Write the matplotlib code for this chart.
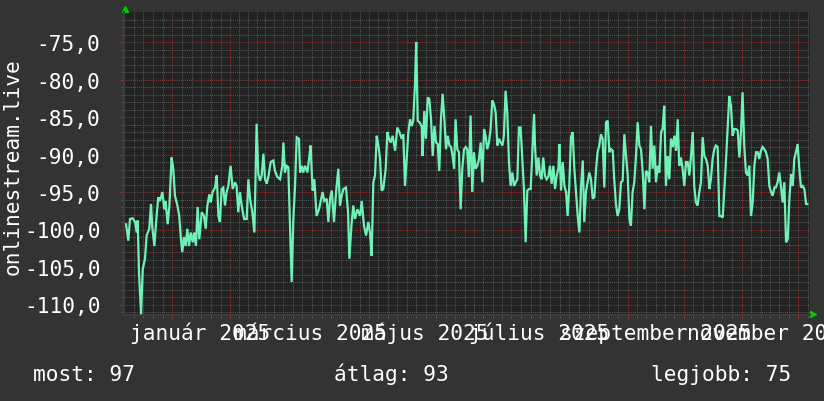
import matplotlib
matplotlib.use("Agg")
import matplotlib.pyplot as plt
import matplotlib.dates as mdates
import matplotlib.transforms as mtransforms
from matplotlib.ticker import FixedLocator, FuncFormatter
from datetime import datetime, timedelta

# ---------------- data ----------------
START = datetime(2024, 12, 6, 5, 0)   # left edge of the time window
WINDOW_DAYS = 366.2                   # width of the time window

day_offsets = [
    1.1, 2.3, 3.2, 4.6, 5.9, 6.8, 7.3, 8.0, 9.1, 10.0, 11.2, 12.1, 13.5, 14.4, 15.1, 16.2,
    17.4, 18.3, 19.2, 20.5, 21.5, 22.2, 23.3, 24.2, 25.4, 26.3, 27.2, 28.5, 29.5, 30.4, 31.1,
    32.0, 32.9, 33.8, 34.7, 35.6, 36.7, 37.5, 38.4, 39.3, 40.2, 41.5, 42.7, 43.6, 44.5, 45.6,
    46.3, 47.3, 48.6, 49.5, 50.4, 51.2, 52.1, 53.0, 53.9, 54.8, 55.7, 56.9, 58.0, 59.3, 60.1,
    61.0, 61.9, 62.8, 64.1, 65.5, 66.4, 67.3, 68.5, 69.6, 70.8, 71.7, 72.6, 73.5, 74.4, 75.3,
    76.2, 77.2, 78.3, 79.7, 80.6, 81.9, 83.3, 84.5, 85.1, 85.9, 86.8, 87.7, 88.6, 89.5, 90.4,
    91.3, 92.2, 93.4, 94.0, 94.8, 95.7, 96.6, 97.9, 98.8, 99.6, 100.7, 101.6, 102.8, 104.1,
    105.0, 106.0, 106.9, 108.2, 109.1, 110.0, 110.9, 112.1, 113.2, 114.4, 115.3, 116.2, 117.1,
    118.5, 119.6, 120.3, 121.4, 122.4, 123.3, 124.6, 126.0, 126.9, 128.1, 129.2, 130.4, 131.3,
    132.2, 133.1, 134.0, 134.9, 135.8, 136.7, 137.5, 138.4, 139.7, 140.6, 141.5, 142.3, 143.4,
    144.7, 145.9, 147.0, 148.2, 149.1, 150.0, 150.9, 151.8, 152.7, 153.6, 154.4, 155.3, 156.0,
    156.8, 157.7,
    158.9, 159.4, 160.3, 161.2, 162.1, 163.0, 163.9, 164.8, 165.7, 166.6, 167.5, 168.3, 169.2,
    170.1, 171.0, 171.9, 172.8, 173.7, 174.6, 175.4, 176.2, 177.0, 177.9, 178.8, 179.7, 180.6,
    181.5, 182.4, 183.2, 184.1, 185.0, 185.9, 186.8, 187.7, 188.6, 189.5, 190.4, 191.3, 192.2,
    193.0, 193.9, 194.8, 195.7, 196.6, 197.5, 198.4, 199.3, 200.2, 201.1, 202.0, 202.8, 203.7,
    204.6, 205.5, 206.4, 207.3, 208.2, 209.1, 210.0, 210.8, 211.7, 212.6, 213.5, 214.4, 215.3,
    216.2, 217.1, 218.0, 218.9, 219.4, 220.3, 221.2, 222.1, 222.9, 223.8, 224.7, 225.6, 226.5,
    227.4, 228.3, 229.2, 230.1, 231.0, 231.9, 232.4, 233.3, 234.2, 235.1, 236.0, 236.8, 237.7,
    238.6, 239.5, 240.4, 241.3, 242.2, 243.1, 244.0, 244.9, 245.7, 246.6, 247.5, 248.4, 249.3,
    250.2, 251.1, 252.0, 252.8, 253.7, 254.6, 255.5, 256.4, 257.3, 258.2, 259.1, 260.0, 260.9,
    261.7, 262.6, 263.5, 264.4, 265.3, 266.2, 267.1, 268.0, 268.9, 269.8, 270.6, 271.5, 272.4,
    273.3, 274.2, 275.1, 276.0, 276.9, 277.8, 278.6, 279.5, 280.4, 281.3, 282.2, 283.1, 284.0,
    284.9, 285.8, 286.7, 287.5, 288.4, 289.3, 290.2, 291.1, 292.0, 292.9, 293.8, 294.7, 295.6,
    296.4, 297.3, 298.2, 299.1, 300.0, 300.9, 301.8, 302.7, 303.6, 304.4, 305.3, 306.2, 307.1,
    308.0, 308.9, 309.8, 310.7, 311.6, 312.5, 313.3, 314.2, 315.1, 316.0, 316.9, 317.8, 318.7,
    319.6, 320.5, 321.4, 322.2, 323.1, 324.0, 324.9, 325.8, 326.7, 327.6, 328.5, 329.4, 330.2,
    331.1, 332.0, 332.9, 333.8, 334.7, 335.6, 336.5, 337.4, 338.3, 339.1, 340.0, 340.9, 341.8,
    342.7, 343.6, 344.5, 345.4, 346.3, 347.2, 348.0, 348.9, 349.8, 350.7, 351.6, 352.5, 353.4,
    354.3, 355.2, 356.1, 357.0, 357.8, 358.7, 359.6, 360.5, 361.4, 362.3, 363.2, 364.1, 364.8,
]

values = [
    -99.3, -101.5, -98.6, -98.5, -99.0, -100.4, -98.8, -105.7, -111.3, -105.3, -103.9, -100.8,
    -99.9, -96.6, -99.7, -102.2, -98.2, -95.7, -96.2, -95.0, -97.3, -96.2, -99.3, -97.0, -90.4,
    -91.9, -95.5, -96.8, -98.2, -101.3, -103.0, -101.0, -102.2, -99.9, -102.2, -100.4, -101.7,
    -100.4, -102.2, -97.0, -101.3, -97.7, -98.2, -99.9, -96.8, -95.3, -96.4, -95.0, -94.4,
    -92.8, -98.2, -99.0, -94.6, -94.4, -96.8, -95.0, -94.2, -91.5, -94.6, -93.7, -94.2, -97.7,
    -95.0, -96.8, -98.6, -98.6, -93.3, -95.9, -97.7, -100.4, -85.9, -92.6, -93.5, -92.8, -89.9,
    -93.3, -93.9, -92.8, -91.0, -90.8, -92.2, -93.0, -93.3, -91.5, -88.4, -92.4, -91.5, -91.7,
    -99.5, -107.0, -98.6, -94.2, -87.7, -87.9, -92.4, -91.5, -92.4, -91.5, -92.4, -90.6, -88.8,
    -94.8, -93.3, -98.2, -97.3, -96.2, -95.0, -96.2, -95.9, -99.0, -95.9, -94.8, -99.0, -95.0,
    -91.9, -96.8, -95.5, -94.6, -94.4, -97.7, -103.9, -99.5, -96.8, -98.6, -97.3, -98.2, -96.2,
    -99.5, -100.8, -99.0, -100.4, -103.5, -93.7, -92.8, -87.5, -88.8, -90.6, -94.8, -94.6,
    -91.9, -87.0, -87.9, -88.4, -87.5, -89.5, -86.4, -87.0, -87.9, -87.3, -94.2, -90.6, -87.0,
    -85.3, -86.2, -85.5, -80.8, -75.0, -85.5, -85.7,
    -86.2, -90.2, -84.2, -87.9, -82.4, -82.6, -85.3, -90.2, -86.2, -88.4, -88.6, -92.2, -85.3,
    -81.9, -85.3, -89.3, -87.5, -88.8, -89.0, -90.2, -91.9, -85.3, -89.3, -89.7, -97.3, -91.9,
    -89.3, -89.0, -89.3, -93.0, -84.8, -95.0, -89.7, -91.9, -91.5, -90.6, -88.4, -93.7, -86.6,
    -87.5, -89.3, -88.4, -86.6, -82.8, -83.3, -84.4, -88.8, -87.9, -88.4, -88.8, -87.5, -81.5,
    -84.4, -91.0, -94.2, -92.4, -94.2, -93.7, -93.3, -86.4, -86.4, -90.6, -94.6, -101.7, -94.8,
    -94.6, -94.6, -89.7, -84.6, -88.8, -92.8, -90.4, -92.8, -93.3, -90.4, -92.8, -93.3, -93.0,
    -91.5, -93.9, -91.5, -94.6, -92.8, -91.9, -88.6, -94.8, -91.0, -94.2, -95.0, -98.2, -94.2,
    -87.7, -87.0, -91.9, -95.0, -98.2, -100.4, -94.2, -90.8, -99.0, -95.0, -93.7, -92.4, -93.3,
    -95.9, -95.7, -91.9, -89.7, -88.8, -87.3, -87.9, -94.4, -85.7, -85.5, -89.7, -89.3, -89.5,
    -93.3, -96.6, -98.2, -97.3, -93.7, -93.5, -87.3, -90.2, -92.8, -98.6, -99.5, -95.0, -93.7,
    -90.2, -85.7, -88.8, -89.3, -92.4, -97.3, -92.2, -92.4, -93.7, -86.2, -91.9, -88.8, -93.7,
    -91.5, -92.4, -87.0, -86.6, -83.5, -94.2, -90.2, -93.3, -87.9, -89.0, -87.5, -89.5, -85.3,
    -91.5, -90.4, -91.9, -94.2, -91.0, -91.0, -92.8, -90.2, -87.0, -94.2, -96.4, -96.8, -95.0,
    -93.7, -87.7, -90.2, -90.6, -91.5, -94.6, -93.3, -90.6, -89.3, -88.8, -89.0, -98.2, -98.2,
    -98.4, -94.6, -90.6, -86.6, -82.2, -83.5, -87.5, -86.6, -86.6, -86.8, -90.4, -86.8, -81.7,
    -88.8, -92.4, -92.8, -91.5, -98.2, -96.4, -91.5, -89.7, -89.7, -90.6, -89.5, -89.0, -89.3,
    -89.7, -90.6, -94.2, -95.0, -95.5, -94.4, -94.4, -93.7, -92.4, -94.2, -96.4, -93.7, -101.7,
    -101.3, -95.9, -92.6, -94.2, -90.6, -89.7, -88.6, -91.9, -94.4, -94.2, -94.6, -96.6, -96.6,
]

y_ticks = [-75, -80, -85, -90, -95, -100, -105, -110]
y_limits = (-111.4, -71.0)

label_dates = ["2025-01-16", "2025-03-16", "2025-05-16", "2025-07-16", "2025-09-16", "2025-11-16"]
label_texts = ["január 2025", "március 2025", "május 2025", "július 2025",
               "szeptember 2025", "november 2025"]

series_name = "onlinestream.live"
stat_labels = ["most", "átlag", "legjobb"]
stat_values = [97, 93, 75]

# ---------------- styling ----------------
BG = "#333333"
PLOT_BG = "#222222"
MINOR = "#575757"
MAJOR = "#8a3434"
LINE = "#70F2B6"
TEXT = "#FFFFFF"
FONT = "DejaVu Sans Mono"
FS = 15.2

W, H = 824, 402
fig = plt.figure(figsize=(W / 100, H / 100), dpi=100, facecolor=BG)
ax = fig.add_axes([124 / W, (H - 316) / H, (810 - 124) / W, (316 - 13) / H])
ax.set_facecolor(PLOT_BG)

times = [START + timedelta(days=d) for d in day_offsets]
ax.plot(times, values, color=LINE, lw=1.6, solid_joinstyle="miter", zorder=3)

ax.set_xlim(START, START + timedelta(days=WINDOW_DAYS))
ax.set_ylim(*y_limits)

# month starts (major, red) and subdivisions of each month (minor, gray)
month_starts = []
minor_pos = []
y, m = 2024, 12
while True:
    ms = datetime(y, m, 1)
    ny, nm = (y + 1, 1) if m == 12 else (y, m + 1)
    nxt = datetime(ny, nm, 1)
    if ms > START + timedelta(days=WINDOW_DAYS):
        break
    month_starts.append(ms)
    span = (nxt - ms) / 6
    for k in range(1, 6):
        minor_pos.append(ms + span * k)
    y, m = ny, nm

ax.xaxis.set_major_locator(FixedLocator(mdates.date2num(month_starts)))
ax.xaxis.set_minor_locator(FixedLocator(mdates.date2num(minor_pos)))
ax.xaxis.set_major_formatter(FuncFormatter(lambda v, p: ""))
ax.xaxis.set_minor_formatter(FuncFormatter(lambda v, p: ""))

ax.yaxis.set_major_locator(FixedLocator(y_ticks))
ax.yaxis.set_minor_locator(FixedLocator(list(range(-111, -71))))
ax.yaxis.set_major_formatter(FuncFormatter(lambda v, p: f"{v:.1f}".replace(".", ",")))

ax.grid(which="minor", color=MINOR, lw=0.75, ls=(0, (1, 1)), zorder=1)
ax.grid(which="major", color=MAJOR, lw=0.75, ls=(0, (1, 1)), zorder=2)
ax.set_axisbelow(True)

ax.tick_params(axis="both", which="major", length=3, width=0.75, color=MAJOR,
               labelcolor=TEXT, labelsize=FS)
ax.tick_params(axis="both", which="minor", length=2, width=0.75, color=MINOR)
ax.tick_params(axis="y", which="major", pad=14)
for lab in ax.get_yticklabels():
    lab.set_fontfamily(FONT)

for s in ("top", "right"):
    ax.spines[s].set_visible(False)
for s in ("left", "bottom"):
    ax.spines[s].set_color("#3c3c3c")
    ax.spines[s].set_linewidth(1.5)

# month labels centred on the middle of the month
tr = mtransforms.blended_transform_factory(ax.transData, fig.transFigure)
for d, t in zip(label_dates, label_texts):
    ax.text(datetime.fromisoformat(d), 1 - 340 / H, t, transform=tr, ha="center",
            va="baseline", color=TEXT, fontsize=FS, family=FONT, clip_on=False)

# axis arrows
ax.plot([125 / W], [1 - 10 / H], marker="^", ms=5, color="#00d000", transform=fig.transFigure,
        clip_on=False)
ax.plot([813 / W], [1 - 315 / H], marker=">", ms=5, color="#00d000", transform=fig.transFigure,
        clip_on=False)

# vertical series name
fig.text(12.5 / W, 1 - 167 / H, series_name, rotation=90, ha="center", va="center",
         color=TEXT, fontsize=FS, family=FONT)

# legend statistics
stat_x = [33, 334, 651]
for x, lab, v in zip(stat_x, stat_labels, stat_values):
    fig.text(x / W, 1 - 381 / H, f"{lab}: {v}", ha="left", va="baseline",
             color=TEXT, fontsize=FS, family=FONT)

fig.savefig("out.png", dpi=100, facecolor=BG)
